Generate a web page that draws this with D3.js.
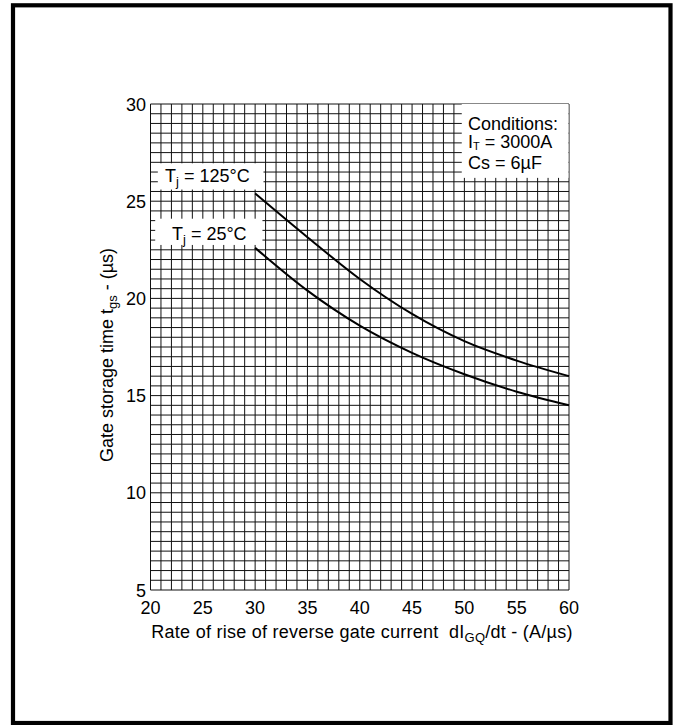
<!DOCTYPE html>
<html>
<head>
<meta charset="utf-8">
<script src="https://cdn.jsdelivr.net/npm/d3@7"></script>
<style>
  html, body { margin: 0; padding: 0; background: #fff; }
  svg { display: block; }
  text { font-family: "Liberation Sans", Arial, sans-serif; fill: #000; }
</style>
</head>
<body>
<svg id="chart" width="677" height="725"></svg>
<script>
// Gate storage time vs. rate of rise of reverse gate current
const xTicks = [20, 25, 30, 35, 40, 45, 50, 55, 60];
const yTicks = [5, 10, 15, 20, 25, 30];
const rate = [30, 35, 40, 45, 50, 55, 60];            // dIGQ/dt (A/µs)
const tgs125 = [25.4, 23.15, 21.0, 19.2, 17.8, 16.8, 16.0]; // Tj = 125°C (µs)
const tgs25 = [22.6, 20.4, 18.6, 17.2, 16.1, 15.2, 14.5];   // Tj = 25°C (µs)

const svg = d3.select("#chart");

// page frame
svg.append("rect")
  .attr("x", 13).attr("y", 5.3)
  .attr("width", 657.5).attr("height", 717.7)
  .attr("fill", "none").attr("stroke", "#000").attr("stroke-width", 4.2);

const x = d3.scaleLinear().domain([20, 60]).range([150.5, 569]);
const y = d3.scaleLinear().domain([5, 30]).range([590, 104]);

// fine grid: 1 A/µs by 0.5 µs
const grid = svg.append("g").attr("stroke", "#111").attr("stroke-width", 1);
d3.range(20, 60.01, 1).forEach(v => {
  grid.append("line").attr("x1", x(v)).attr("x2", x(v)).attr("y1", y(5)).attr("y2", y(30));
});
d3.range(5, 30.01, 0.5).forEach(v => {
  grid.append("line").attr("y1", y(v)).attr("y2", y(v)).attr("x1", x(20)).attr("x2", x(60));
});

// tick labels
svg.append("g").selectAll("text").data(xTicks).join("text")
  .attr("x", d => x(d)).attr("y", 614)
  .attr("text-anchor", "middle").attr("font-size", 18)
  .text(d => d);
svg.append("g").selectAll("text").data(yTicks).join("text")
  .attr("x", 146).attr("y", d => y(d) + 6.5)
  .attr("text-anchor", "end").attr("font-size", 18)
  .text(d => d);

// axis titles
const xt = svg.append("text")
  .attr("x", 362).attr("y", 638).attr("text-anchor", "middle")
  .attr("font-size", 18).attr("letter-spacing", 0.25);
xt.append("tspan").text("Rate of rise of reverse gate current\u00a0\u00a0dI");
xt.append("tspan").attr("font-size", 13).attr("dy", 4).text("GQ");
xt.append("tspan").attr("dy", -4).text("/dt - (A/\u00b5s)");

const yt = svg.append("text")
  .attr("transform", "translate(113,355) rotate(-90)")
  .attr("text-anchor", "middle").attr("font-size", 18);
yt.append("tspan").text("Gate storage time t");
yt.append("tspan").attr("font-size", 13).attr("dy", 4).text("gs");
yt.append("tspan").attr("dy", -4).text(" - (\u00b5s)");

// annotation boxes
function labelBox(x0, x1, y0, y1) {
  svg.append("rect")
    .attr("x", x(x0)).attr("y", y(y0))
    .attr("width", x(x1) - x(x0)).attr("height", y(y1) - y(y0))
    .attr("fill", "#fff");
}
labelBox(20.7, 30.8, 26.95, 25.6);
labelBox(20.45, 30.7, 24.1, 22.75);
labelBox(49.75, 59.95, 30, 26.2);

function tjLabel(px, py, t) {
  const tx = svg.append("text").attr("x", px).attr("y", py).attr("font-size", 18);
  tx.append("tspan").text("T");
  tx.append("tspan").attr("font-size", 13).attr("dy", 4).text("j");
  tx.append("tspan").attr("dy", -4).text(" = " + t);
}
tjLabel(165, 182, "125\u00b0C");
tjLabel(172, 240, "25\u00b0C");

const cond = svg.append("g").attr("font-size", 18);
cond.append("text").attr("x", 468).attr("y", 129.5).text("Conditions:");
const it = cond.append("text").attr("x", 468).attr("y", 148);
it.append("tspan").text("I");
it.append("tspan").attr("font-size", 11).attr("dy", 2).text("T");
it.append("tspan").attr("dy", -2).text(" = 3000A");
cond.append("text").attr("x", 468).attr("y", 168.5).text("Cs = 6\u00b5F");

// curves
const line = d3.line().x(d => x(d[0])).y(d => y(d[1])).curve(d3.curveMonotoneX);
[tgs125, tgs25].forEach(series => {
  svg.append("path")
    .datum(rate.map((r, i) => [r, series[i]]))
    .attr("d", line)
    .attr("fill", "none").attr("stroke", "#000").attr("stroke-width", 2);
});
</script>
</body>
</html>
